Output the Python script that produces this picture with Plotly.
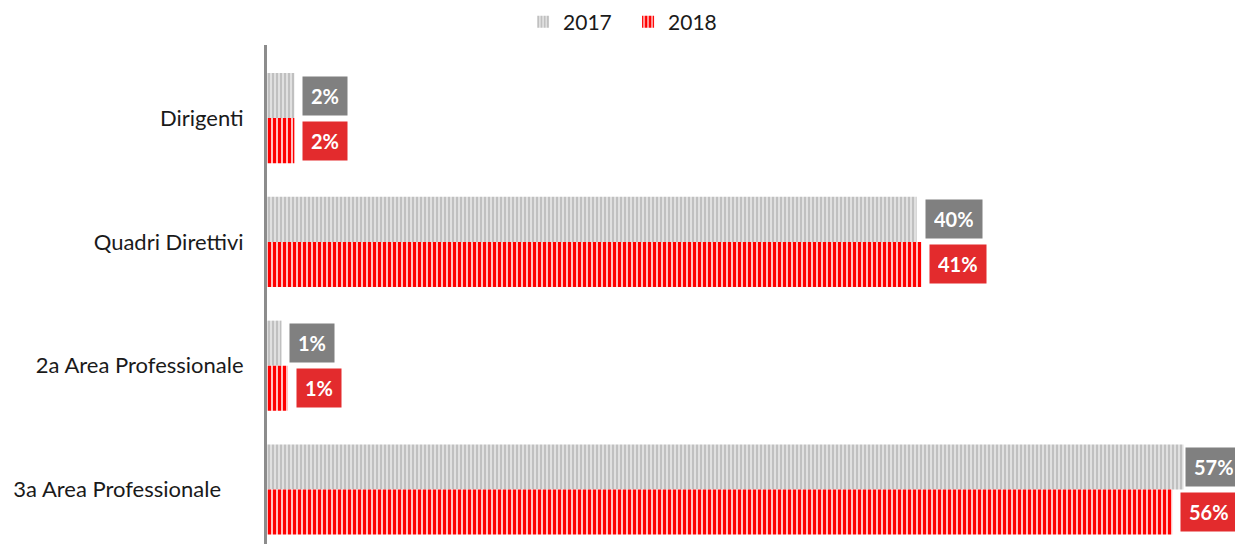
import plotly.graph_objects as go

categories = ["Dirigenti", "Quadri Direttivi", "2a Area Professionale", "3a Area Professionale"]
tick_labels = ["Dirigenti", "Quadri Direttivi", "2a Area Professionale", "3a Area Professionale\u00a0\u00a0\u00a0\u00a0"]
values_2017 = [1.7, 40.4, 0.9, 57.0]
values_2018 = [1.7, 40.7, 1.3, 56.3]
labels_2017 = ["2%", "40%", "1%", "57%"]
labels_2018 = ["2%", "41%", "1%", "56%"]

FONT = "Lato"
GREY_BOX = "#808080"
RED_BOX = "#e32b2d"
X_MAX = 60.2

fig = go.Figure()
fig.add_trace(go.Bar(
    name="2017", y=categories, x=values_2017, orientation="h",
    marker=dict(color="#d9d9d9", line=dict(width=0),
                pattern=dict(shape="|", fgcolor="#b8b8b8", bgcolor="#e0e0e0",
                             size=4, solidity=0.4, fgopacity=1, fillmode="replace")),
    hoverinfo="skip",
))
fig.add_trace(go.Bar(
    name="2018", y=categories, x=values_2018, orientation="h",
    marker=dict(color="#ffffff", line=dict(width=0),
                pattern=dict(shape="|", fgcolor="#ff0000", bgcolor="#ffffff",
                             size=5, solidity=0.7, fgopacity=1, fillmode="replace")),
    hoverinfo="skip",
))


def label_shift(v):
    # labels that would run past the right edge are pulled back inside (as in the original)
    return 1 if v > X_MAX - 3.4 else 8


annotations = []
for cat, v, lab in zip(categories, values_2017, labels_2017):
    annotations.append(dict(x=v, y=cat, text="<b>%s</b>" % lab, showarrow=False,
                            xanchor="left", yanchor="middle", xshift=label_shift(v), yshift=22.5,
                            bgcolor=GREY_BOX, borderpad=8, height=22,
                            font=dict(family=FONT, size=20, color="white")))
for cat, v, lab in zip(categories, values_2018, labels_2018):
    annotations.append(dict(x=v, y=cat, text="<b>%s</b>" % lab, showarrow=False,
                            xanchor="left", yanchor="middle", xshift=label_shift(v), yshift=-22.5,
                            bgcolor=RED_BOX, borderpad=8, height=22,
                            font=dict(family=FONT, size=20, color="white")))

fig.update_layout(
    width=1235, height=544,
    margin=dict(l=267, r=0, t=45, b=0, pad=0),
    paper_bgcolor="white", plot_bgcolor="white",
    barmode="group", bargap=0.272, bargroupgap=0,
    font=dict(family=FONT, color="#1a1a1a"),
    showlegend=True,
    legend=dict(orientation="h", x=0.373, y=1.046, xanchor="center", yanchor="middle",
                traceorder="normal", font=dict(family=FONT, size=21, color="#1a1a1a"),
                itemwidth=30, entrywidth=60),
    annotations=annotations,
)
fig.update_xaxes(range=[0, X_MAX], visible=False, showgrid=False, zeroline=False)
fig.update_yaxes(type="category", categoryorder="array", categoryarray=categories,
                 tickvals=categories, ticktext=tick_labels,
                 range=[3.44, -0.59], showgrid=False, zeroline=False,
                 showline=True, linecolor="#8c8c8c", linewidth=3,
                 ticks="", ticklabelstandoff=16,
                 tickfont=dict(family=FONT, size=22, color="#1a1a1a"))

fig.write_html("out.html", config={"displayModeBar": False},
               post_script="document.body.style.margin='0px';document.body.style.overflow='hidden';")
